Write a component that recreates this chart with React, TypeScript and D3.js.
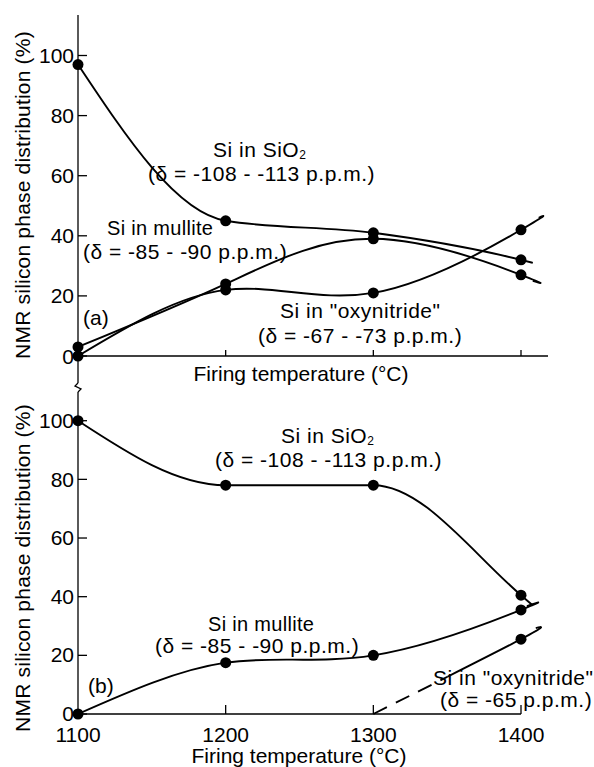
import React from "react";
import * as d3 from "d3";

// ---- data ----
const temps = [1100, 1200, 1300, 1400];
const yTicks = [0, 20, 40, 60, 80, 100];
const xTickLabels = ["1100", "1200", "1300", "1400"];

// panel (a)
const sio2A = [97, 45, 41, 32];
const mulliteA = [3, 24, 39, 27];
const oxyA = [0, 22, 21, 42];
const sio2ATail: [number, number] = [1408, 31];
const mulliteATail: [number, number] = [1408, 25];
const oxyATail: [number, number] = [1412, 46];

// panel (b)
const sio2B = [100, 78, 78, 40.5];
const mulliteB = [0, 17.5, 20, 35.5];
const oxyBTemps = [1300, 1400];
const oxyB = [0, 25.5];
const sio2BTail: [number, number] = [1408, 37];
const mulliteBTail: [number, number] = [1404, 36.8];
const oxyBTail: [number, number] = [1410, 29.3];
const oxyBDashEnd = 1350;

const FONT = "'Liberation Sans', Arial, Helvetica, sans-serif";
const FS = 21;

export default function App() {
  const x = d3.scaleLinear().domain([1100, 1400]).range([78, 521]);
  const yA = d3.scaleLinear().domain([0, 100]).range([356, 55.5]);
  const yB = d3.scaleLinear().domain([0, 100]).range([714, 420.7]);

  const mk = (ts: number[], vs: number[], tail: [number, number] | null) => {
    const pts: [number, number][] = ts.map((t, i) => [t, vs[i]]);
    if (tail) pts.push(tail);
    return pts;
  };

  const path = (ys: d3.ScaleLinear<number, number>, pts: [number, number][], curve: d3.CurveFactory) =>
    d3
      .line<[number, number]>()
      .x((d) => x(d[0]))
      .y((d) => ys(d[1]))
      .curve(curve)(pts) || "";

  const lineStyle = { fill: "none", stroke: "#000", strokeWidth: 1.9 };

  const dots = (ys: d3.ScaleLinear<number, number>, ts: number[], vs: number[], key: string) =>
    ts.map((t, i) => <circle key={key + i} cx={x(t)} cy={ys(vs[i])} r={5.5} fill="#000" />);

  const axisX = x(1100);
  const dashX = x(oxyBDashEnd);

  const textProps = { fontFamily: FONT, fontSize: FS, fill: "#000" };
  const annProps = { ...textProps, letterSpacing: 0.5 };
  const mulProps = { ...textProps, fontSize: 20, letterSpacing: 0.3 };

  return (
    <svg
      width={594}
      height={767}
      style={{ position: "absolute", left: 0, top: 0, background: "#fff" }}
    >
      <defs>
        <clipPath id="dashClip">
          <rect x={0} y={0} width={dashX} height={767} />
        </clipPath>
        <clipPath id="solidClip">
          <rect x={dashX} y={0} width={594 - dashX} height={767} />
        </clipPath>
      </defs>
      <rect x={0} y={0} width={594} height={767} fill="#fff" />

      {/* y axis with break */}
      <g stroke="#000" strokeWidth={1.3} fill="none">
        <line x1={axisX} y1={15} x2={axisX} y2={383} />
        <path d={`M${axisX},383 L${axisX - 3},386 L${axisX + 3},389 L${axisX},392`} />
        <line x1={axisX} y1={392} x2={axisX} y2={yB(0)} />
        {/* x axes */}
        <line x1={axisX} y1={yA(0)} x2={548} y2={yA(0)} />
        <line x1={axisX} y1={yB(0)} x2={x(1400)} y2={yB(0)} />
        {/* y ticks */}
        {yTicks.map((t) => (
          <line key={"ta" + t} x1={axisX} x2={axisX + 9} y1={yA(t)} y2={yA(t)} />
        ))}
        {yTicks.map((t) => (
          <line key={"tb" + t} x1={axisX} x2={axisX + 9} y1={yB(t)} y2={yB(t)} />
        ))}
        {/* x ticks */}
        {temps.slice(1).map((t) => (
          <line key={"xa" + t} x1={x(t)} x2={x(t)} y1={yA(0)} y2={yA(0) - 6} />
        ))}
        {temps.slice(1).map((t) => (
          <line key={"xb" + t} x1={x(t)} x2={x(t)} y1={yB(0)} y2={yB(0) - 9} />
        ))}
      </g>

      {/* y tick labels */}
      {yTicks.map((t) => (
        <text key={"la" + t} x={axisX - 4} y={yA(t)} dy="0.36em" textAnchor="end" {...textProps}>
          {t}
        </text>
      ))}
      {yTicks.map((t) => (
        <text key={"lb" + t} x={axisX - 4} y={yB(t)} dy="0.34em" textAnchor="end" {...textProps}>
          {t}
        </text>
      ))}
      {/* x tick labels bottom */}
      {temps.map((t, i) => (
        <text key={"xl" + t} x={x(t)} y={742} textAnchor="middle" {...textProps}>
          {xTickLabels[i]}
        </text>
      ))}

      {/* axis titles */}
      <text x={301} y={381} textAnchor="middle" {...textProps}>
        Firing temperature (°C)
      </text>
      <text x={299} y={763} textAnchor="middle" {...textProps}>
        Firing temperature (°C)
      </text>
      <text transform="translate(30,195) rotate(-90)" textAnchor="middle" {...textProps} letterSpacing={0.2}>
        NMR silicon phase distribution (%)
      </text>
      <text transform="translate(30,568) rotate(-90)" textAnchor="middle" {...textProps} letterSpacing={0.2}>
        NMR silicon phase distribution (%)
      </text>

      {/* panel (a) curves */}
      <path d={path(yA, mk(temps, sio2A, sio2ATail), d3.curveMonotoneX)} {...lineStyle} />
      <path d={path(yA, mk(temps, mulliteA, mulliteATail), d3.curveNatural)} {...lineStyle} />
      <path d={path(yA, mk(temps, oxyA, oxyATail), d3.curveNatural)} {...lineStyle} />
      {dots(yA, temps, sio2A, "sa")}
      {dots(yA, temps, mulliteA, "ma")}
      {dots(yA, temps, oxyA, "oa")}

      {/* panel (b) curves */}
      <path d={path(yB, mk(temps, sio2B, sio2BTail), d3.curveMonotoneX)} {...lineStyle} />
      <path d={path(yB, mk(temps, mulliteB, mulliteBTail), d3.curveNatural)} {...lineStyle} />
      <path
        d={path(yB, mk(oxyBTemps, oxyB, oxyBTail), d3.curveNatural)}
        {...lineStyle}
        strokeDasharray="15 10"
        clipPath="url(#dashClip)"
      />
      <path
        d={path(yB, mk(oxyBTemps, oxyB, oxyBTail), d3.curveNatural)}
        {...lineStyle}
        clipPath="url(#solidClip)"
      />
      {dots(yB, temps, sio2B, "sb")}
      {dots(yB, temps, mulliteB, "mb")}
      {dots(yB, oxyBTemps.slice(1), oxyB.slice(1), "ob")}

      {/* annotations (a) */}
      <text x={213} y={157} {...annProps}>
        Si in SiO<tspan fontSize={12} dy={2}>2</tspan>
      </text>
      <text x={148} y={181} {...annProps}>
        (δ = -108 - -113 p.p.m.)
      </text>
      <text x={107} y={235} {...mulProps}>
        Si in mullite
      </text>
      <text x={83} y={259} {...annProps}>
        (δ = -85 - -90 p.p.m.)
      </text>
      <text x={83} y={325} {...textProps}>
        (a)
      </text>
      <text x={280} y={318} {...annProps}>
        Si in "oxynitride"
      </text>
      <text x={258} y={343} {...annProps}>
        (δ = -67 - -73 p.p.m.)
      </text>

      {/* annotations (b) */}
      <text x={281} y={443} {...annProps}>
        Si in SiO<tspan fontSize={12} dy={2}>2</tspan>
      </text>
      <text x={215} y={467} {...annProps}>
        (δ = -108 - -113 p.p.m.)
      </text>
      <text x={208} y={631} {...mulProps}>
        Si in mullite
      </text>
      <text x={155} y={653} {...annProps}>
        (δ = -85 - -90 p.p.m.)
      </text>
      <text x={88} y={693} {...textProps}>
        (b)
      </text>
      <text x={433} y={685} {...annProps}>
        Si in "oxynitride"
      </text>
      <text x={440} y={707} {...annProps}>
        (δ = -65 p.p.m.)
      </text>
    </svg>
  );
}
